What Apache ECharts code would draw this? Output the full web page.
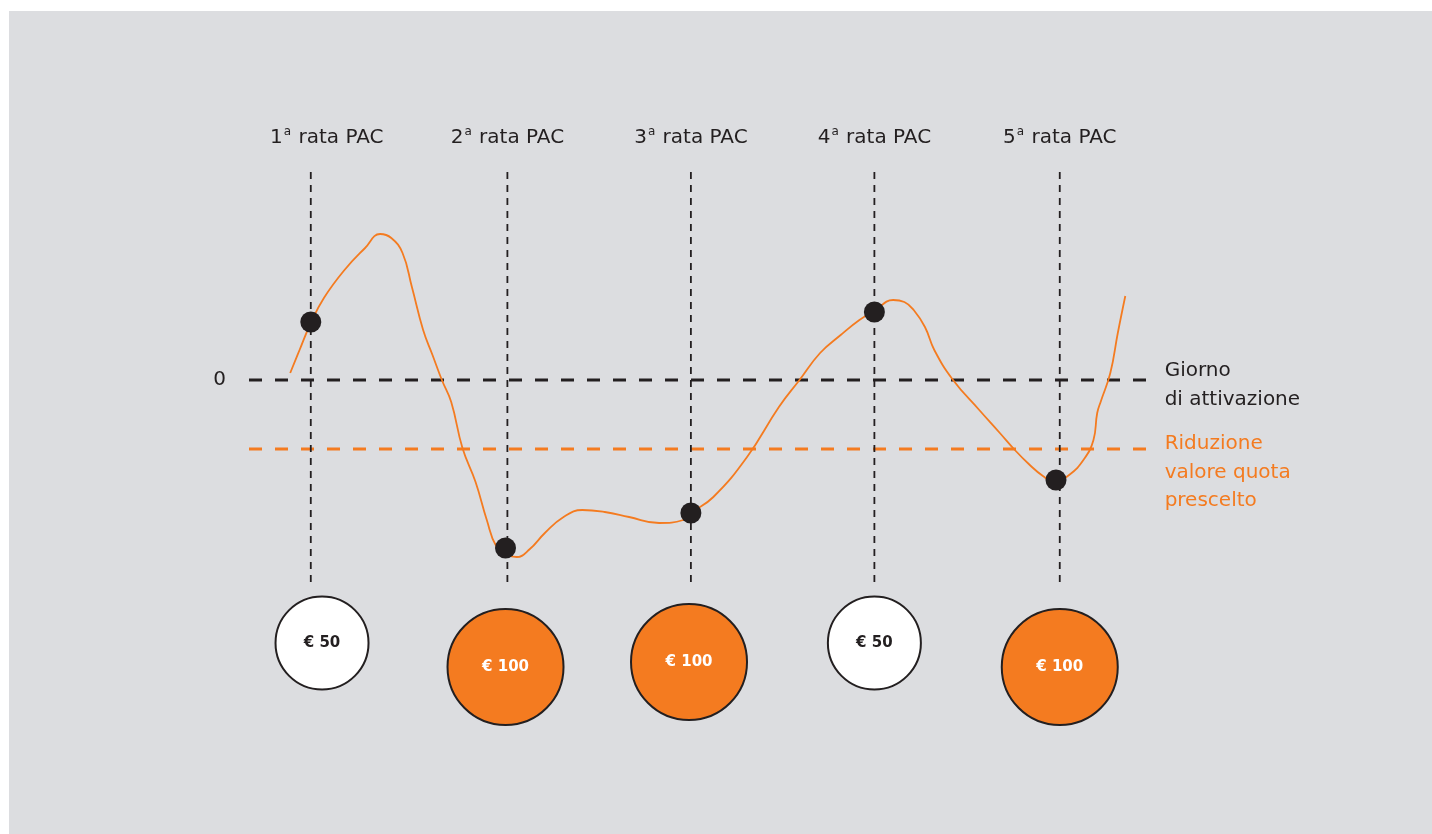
<!DOCTYPE html>
<html lang="it">
<head>
  <meta charset="utf-8">
  <title>Piano di accumulo</title>
  <style>
    html, body { margin: 0; padding: 0; background: #ffffff; }
    #chart { width: 1432px; height: 834px; }
  </style>
</head>
<body>
  <div id="chart"></div>
  <script src="https://cdn.jsdelivr.net/npm/echarts@6/dist/echarts.min.js"></script>
  <script>
    // mesi (x) e variazione del valore quota in % (y)
    var rateNums = ['1', '2', '3', '4', '5'];
    var rateX = [1.00, 2.05, 3.03, 4.01, 5.00];
    var rateTop = 52;
    var rateBottom = -51.25;

    // andamento del valore quota
    var curveX = [0.89, 0.94, 1.00, 1.07, 1.18, 1.29, 1.37, 1.43, 1.49, 1.54, 1.60, 1.65, 1.70, 1.75, 1.81,
      1.88, 1.94, 1.99, 2.05, 2.10, 2.17, 2.25, 2.35, 2.45, 2.57, 2.70, 2.86, 2.99, 3.03, 3.15, 3.33,
      3.50, 3.61, 3.72, 3.83, 3.93, 4.01, 4.11, 4.17, 4.22, 4.28, 4.33, 4.43, 4.57, 4.68, 4.76, 4.84,
      4.91, 4.97, 5.05, 5.13, 5.18, 5.20, 5.22, 5.27, 5.31, 5.35];
    var curveY = [1.75, 7.5, 14.25, 20.5, 27.5, 33, 36.5, 35.5, 31.75, 23.25, 12.5, 6.25, 0, -5.5, -17,
      -25.5, -35, -41.5, -43.75, -44.25, -42.25, -38.25, -34.25, -32.5, -33, -34.25, -35.75, -35, -33.25, -29.25, -19.25,
      -6.75, 0, 6.75, 11.25, 15, 17.25, 20, 19.5, 17.5, 13.25, 7.5, 0, -7.5, -13.25, -17.5, -21.25,
      -24, -25.5, -23.75, -19.75, -15, -8.25, -5.25, 1.75, 11.75, 21];

    // valore quota nel giorno di ogni rata
    var dotX = [1.00, 2.04, 3.03, 4.01, 4.98];
    var dotY = [14.5, -42, -33.25, 17, -25];

    // livelli di riferimento
    var zeroLevel = 0;
    var reductionLevel = -17.25;
    var levelStart = 0.67;
    var levelEnd = 5.48;

    // importi versati
    var coinX = [1.06, 2.04, 3.02, 4.01, 5.00];
    var coinY = [-65.75, -71.75, -70.5, -65.75, -71.75];
    var coinAmount = [50, 100, 100, 50, 100];

    var orange = '#f47b20';
    var dark = '#231f20';
    var font = 'DejaVu Sans';

    var chart = echarts.init(document.getElementById('chart'));

    var curveData = curveX.map(function (x, i) { return [x, curveY[i]]; });
    var dotData = dotX.map(function (x, i) { return [x, dotY[i]]; });
    var coinData = coinX.map(function (x, i) {
      var big = coinAmount[i] >= 100;
      return {
        value: [x, coinY[i], coinAmount[i]],
        symbolSize: big ? 116 : 93,
        itemStyle: { color: big ? orange : '#ffffff' },
        label: { color: big ? '#ffffff' : dark }
      };
    });

    var series = [];

    // linee verticali tratteggiate + etichette rate
    rateX.forEach(function (x, i) {
      series.push({
        type: 'line',
        data: [[x, rateTop], [x, rateBottom]],
        symbol: 'none',
        silent: true,
        z: 2,
        lineStyle: { color: dark, width: 1.8, type: [7, 6] }
      });
      series.push({
        type: 'scatter',
        data: [[x, rateTop]],
        symbol: 'circle',
        symbolSize: 0,
        silent: true,
        itemStyle: { opacity: 1 },
        label: {
          show: true,
          position: 'top',
          distance: 22,
          // la prima etichetta nell'originale è spostata a destra
          offset: [i === 0 ? 16 : 0, 0],
          formatter: rateNums[i] + '{sup|a} rata PAC',
          fontFamily: font,
          fontSize: 20,
          lineHeight: 24,
          color: dark,
          rich: {
            sup: { fontFamily: font, fontSize: 12, color: dark, verticalAlign: 'top', lineHeight: 24, padding: [0, 1, 0, 1] }
          }
        }
      });
    });

    // giorno di attivazione
    series.push({
      type: 'line',
      data: [[levelStart, zeroLevel], [levelEnd, zeroLevel]],
      symbol: 'none',
      silent: true,
      z: 1,
      lineStyle: { color: dark, width: 3, type: [13, 13] },
      endLabel: {
        show: true,
        formatter: 'Giorno\ndi attivazione',
        distance: 15,
        offset: [0, 5.5],
        fontFamily: font,
        fontSize: 20,
        lineHeight: 29,
        color: dark
      }
    });

    // riduzione valore quota
    series.push({
      type: 'line',
      data: [[levelStart, reductionLevel], [levelEnd, reductionLevel]],
      symbol: 'none',
      silent: true,
      z: 1,
      lineStyle: { color: orange, width: 3, type: [13, 13] },
      endLabel: {
        show: true,
        formatter: 'Riduzione\nvalore quota\nprescelto',
        distance: 15,
        offset: [0, 23.5],
        fontFamily: font,
        fontSize: 20,
        lineHeight: 28.5,
        color: orange
      }
    });

    // curva valore quota
    series.push({
      type: 'line',
      data: curveData,
      smooth: 0.45,
      showSymbol: false,
      silent: true,
      z: 3,
      lineStyle: { color: orange, width: 1.8 }
    });

    // punti rata
    series.push({
      type: 'scatter',
      data: dotData,
      symbolSize: 21,
      z: 4,
      itemStyle: { color: dark, opacity: 1 }
    });

    // monete
    series.push({
      type: 'scatter',
      data: coinData,
      z: 4,
      itemStyle: { borderColor: dark, borderWidth: 2, opacity: 1 },
      label: {
        show: true,
        position: 'inside',
        formatter: function (p) { return '€ ' + p.value[2]; },
        fontFamily: font,
        fontWeight: 'bold',
        fontSize: 15
      }
    });

    var option = {
      backgroundColor: '#ffffff',
      animation: false,
      graphic: [{
        type: 'rect',
        z: -10,
        silent: true,
        shape: { x: 9, y: 11, width: 1423, height: 823 },
        style: { fill: '#dcdde0' }
      }],
      grid: { left: 249, right: 185, top: 140, bottom: 14 },
      xAxis: {
        type: 'value',
        min: 0.67,
        max: 6,
        show: false
      },
      yAxis: {
        type: 'value',
        min: -110,
        max: 60,
        interval: 10,
        axisLine: { show: false },
        axisTick: { show: false },
        splitLine: { show: false },
        axisLabel: {
          margin: 23,
          fontFamily: font,
          fontSize: 20,
          color: dark,
          formatter: function (v) { return v === 0 ? '0' : ''; }
        }
      },
      series: series
    };

    chart.setOption(option);
  </script>
</body>
</html>
